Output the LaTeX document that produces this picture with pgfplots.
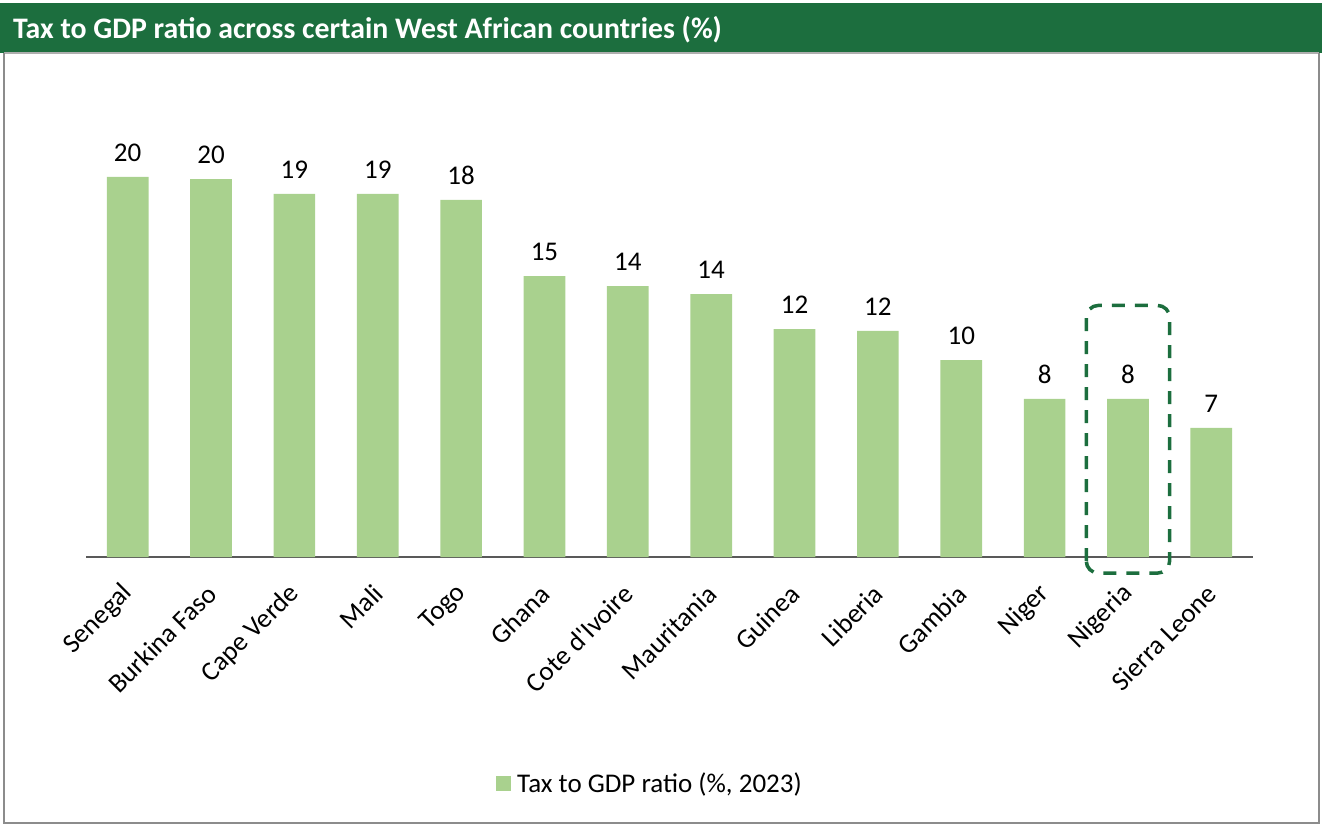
\documentclass[border=0pt]{standalone}
\usepackage{pgfplots}
\pgfplotsset{compat=1.18}
\usepackage{fontspec}
\setmainfont{Carlito}
\definecolor{titlegreen}{RGB}{28,110,62}
\definecolor{barfill}{RGB}{169,209,142}
\definecolor{axisgray}{RGB}{89,89,89}
\definecolor{framegray}{RGB}{140,140,140}
\begin{document}
\begin{tikzpicture}
\useasboundingbox (0pt,0pt) rectangle (1322pt,825pt);
\fill[titlegreen] (0pt,772pt) rectangle (1322pt,822pt);
\node[anchor=west, text=white, inner sep=0pt, font=\fontsize{29.8}{34}\selectfont\bfseries] at (13pt,795pt) {Tax to GDP ratio across certain West African countries (\%)};
\draw[framegray!70, line width=2pt] (4pt,772pt) -- (1319pt,772pt);
\draw[framegray, line width=2.5pt] (4pt,772pt) -- (4pt,2pt) -- (1319pt,2pt) -- (1319pt,772pt);
\begin{axis}[
  at={(127.68pt,268pt)}, anchor=origin,
  scale only axis, width=1167pt, height=425.7pt,
  xmin=-0.5, xmax=13.5, ymin=0, ymax=22,
  axis x line=bottom, axis y line=none,
  axis line style={-, axisgray, line width=2pt},
  xtick={0,...,13},
  xticklabels={Senegal,Burkina Faso,Cape Verde,Mali,Togo,Ghana,Cote d\textquotesingle Ivoire,Mauritania,Guinea,Liberia,Gambia,Niger,Nigeria,Sierra Leone},
  major tick length=0pt,
  xticklabel style={xshift=3pt, yshift=-30pt, rotate=45, anchor=east, font=\fontsize{27}{32}\selectfont},
  clip=false,
  legend style={at={(0.485,-0.531)}, anchor=center, draw=none, font=\fontsize{27}{32}\selectfont, inner sep=0pt, nodes={inner xsep=6pt}},
  legend image code/.code={\fill[barfill] (0pt,-7.5pt) rectangle (15pt,7.5pt);},
]
\addplot[ybar, bar width=0.5, fill=barfill, draw=none,
  nodes near coords, point meta=y,
  every node near coord/.append style={font=\fontsize{27}{32}\selectfont, text=black, anchor=south, yshift=12pt,
    /pgf/number format/.cd, fixed, precision=0, assume math mode=true}]
coordinates {
(0,19.64) (1,19.53) (2,18.76) (3,18.76) (4,18.45) (5,14.52) (6,14.00)
(7,13.59) (8,11.78) (9,11.68) (10,10.18) (11,8.17) (12,8.17) (13,6.67)
};
\addlegendentry{Tax to GDP ratio (\%, 2023)}
\draw[titlegreen, dash pattern=on 13pt off 10pt, line width=3.5pt, rounded corners=12pt]
  (axis cs:11.5,-0.83) rectangle (axis cs:12.5,13.0);
\end{axis}
\end{tikzpicture}
\end{document}
